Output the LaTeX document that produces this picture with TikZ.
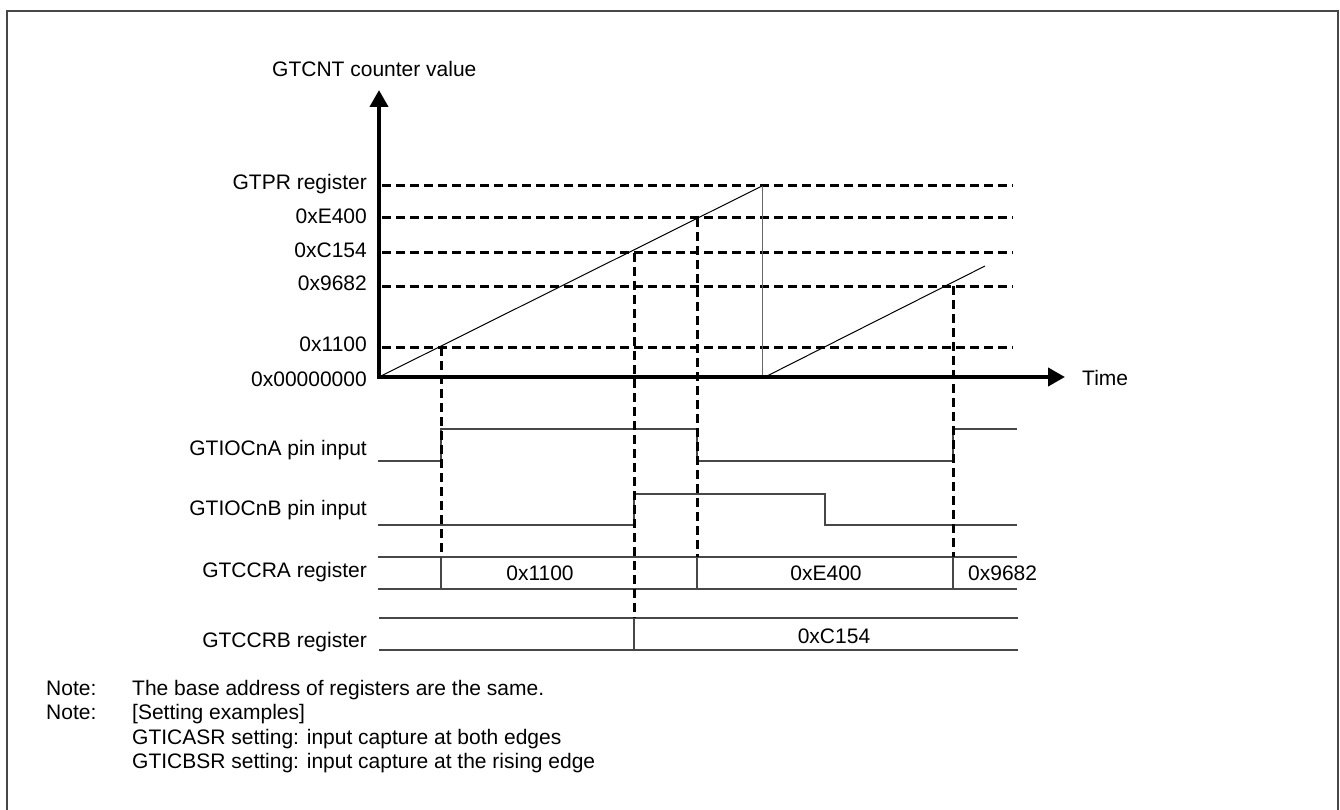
\documentclass[tikz,border=0pt]{standalone}
\usepackage{fontspec}
\setmainfont{Liberation Sans}
\usetikzlibrary{arrows.meta}
\begin{document}
\begin{tikzpicture}[x=1pt,y=-1pt,
  lbl/.style={inner sep=0pt,font=\fontsize{21}{25}\selectfont},
  axisline/.style={line width=4pt,-{Triangle[length=17pt,width=18pt]}},
  guide/.style={line width=3pt,dash pattern=on 9pt off 5pt},
  sig/.style={line width=1.3pt,draw=black!72},
  rampline/.style={line width=1pt},
  frame/.style={line width=2pt,draw=black!72}
]
\useasboundingbox (0,0) rectangle (1340,810);
% frame
\draw[frame] (7,820) -- (7,11) -- (1338,11) -- (1338,820);

% key coordinates
\coordinate (o) at (379,377);
\coordinate (ytip) at (379,90);
\coordinate (xtip) at (1065,377);
\coordinate (peak) at (762,186);
\coordinate (drop) at (762,377);
\coordinate (r2s) at (765,377);
\coordinate (r2e) at (985,266);
\coordinate (p1100) at (441,347);
\coordinate (pC154) at (634,253);
\coordinate (pE400) at (697,218);
\coordinate (p9682) at (953,286);

% dashed guide lines (horizontal)
\foreach \yy in {186,218,253,286,347}{
  \draw[guide] (382,\yy) -- (1013,\yy);
}
% ramps
\draw[rampline] (o) -- (peak);
\draw[line width=1pt,draw=black!60] (peak) -- (drop);
\draw[rampline] (r2s) -- (r2e);

% axes
\draw[axisline] (379,379) -- (ytip);
\draw[axisline] (377,377) -- (xtip);

% signals GTIOCnA
\draw[sig] (378,461) -- (441,461) -- (441,429) -- (697,429) -- (697,461) -- (953,461) -- (953,429) -- (1017,429);
% GTIOCnB
\draw[sig] (378,525) -- (634,525) -- (634,494) -- (825,494) -- (825,525) -- (1017,525);
% GTCCRA
\draw[sig] (378,557) -- (1017,557);
\draw[sig] (378,589) -- (1017,589);
\foreach \xx in {441,697,953}{ \draw[sig] (\xx,557) -- (\xx,589); }
% GTCCRB
\draw[sig] (379,618) -- (1018,618);
\draw[sig] (379,650) -- (1018,650);
\draw[sig] (634,618) -- (634,650);

% dashed verticals
\coordinate (a1) at (441,557);
\coordinate (b1) at (634,618);
\coordinate (a2) at (697,557);
\coordinate (a3) at (953,557);
\draw[guide] (p1100) -- (a1);
\draw[guide] (pC154) -- (b1);
\draw[guide] (pE400) -- (a2);
\draw[guide] (p9682) -- (a3);

% axis labels
\node[lbl,anchor=base west] (ylab) at (272,77) {GTCNT counter value};
\node[lbl,anchor=base west] (tlab) at (1082,385) {Time};

% level labels
\node[lbl,anchor=base east] (lgtpr) at (367,190) {GTPR register};
\node[lbl,anchor=base east] (le400) at (367,224) {0xE400};
\node[lbl,anchor=base east] (lc154) at (367,258) {0xC154};
\node[lbl,anchor=base east] (l9682) at (367,290) {0x9682};
\node[lbl,anchor=base east] (l1100) at (367,351) {0x1100};
\node[lbl,anchor=base east] (lzero) at (367,386) {0x00000000};

% signal labels
\node[lbl,anchor=base east] (sa) at (367,455) {GTIOCnA pin input};
\node[lbl,anchor=base east] (sb) at (367,515) {GTIOCnB pin input};
\node[lbl,anchor=base east] (sra) at (367,577) {GTCCRA register};
\node[lbl,anchor=base east] (srb) at (367,647) {GTCCRB register};

% register values
\node[lbl,anchor=base] (v1) at (540,580) {0x1100};
\node[lbl,anchor=base] (v2) at (826,580) {0xE400};
\node[lbl,anchor=base west] (v3) at (968,580) {0x9682};
\node[lbl,anchor=base] (v4) at (834,643) {0xC154};

% notes
\node[lbl,anchor=base west] (n1) at (46,695) {Note:};
\node[lbl,anchor=base west] (n1t) at (132,695) {The base address of registers are the same.};
\node[lbl,anchor=base west] (n2) at (46,719.5) {Note:};
\node[lbl,anchor=base west] (n2t) at (132,719.5) {[Setting examples]};
\node[lbl,anchor=base west] (n3t) at (132,744) {GTICASR setting: input capture at both edges};
\node[lbl,anchor=base west] (n4t) at (132,768.5) {GTICBSR setting: input capture at the rising edge};
\end{tikzpicture}
\end{document}
